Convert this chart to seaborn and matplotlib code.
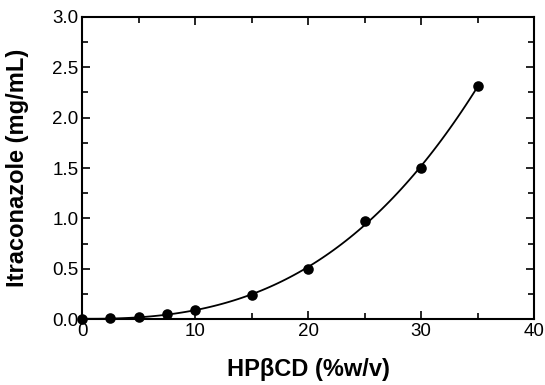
import numpy as np
import pandas as pd
import matplotlib
matplotlib.use("Agg")
import matplotlib.pyplot as plt
import seaborn as sns
from matplotlib.ticker import MultipleLocator, FormatStrFormatter

# ── Datos (solubilidad de fase) ─────────────────────────────────────────────
hpbcd = [0, 2.5, 5, 7.5, 10, 15, 20, 25, 30, 35]
itraconazole = [0.0, 0.007, 0.02, 0.055, 0.09, 0.235, 0.50, 0.97, 1.50, 2.31]

df = pd.DataFrame({"HPbCD": hpbcd, "ITZ": itraconazole})

sns.set_style("ticks", {"axes.edgecolor": "black", "text.color": "black",
                        "axes.labelcolor": "black", "xtick.color": "black",
                        "ytick.color": "black"})
plt.rcParams["font.family"] = ["Liberation Sans", "DejaVu Sans"]

fig, ax = plt.subplots(figsize=(5.45, 3.85), dpi=100)
fig.subplots_adjust(left=0.1505, right=0.98, top=0.956, bottom=0.171)

# curva ajustada (polinomio) + puntos
sns.regplot(data=df, x="HPbCD", y="ITZ", order=3, ci=None, scatter=False,
            line_kws={"color": "black", "linewidth": 1.3}, ax=ax)
sns.scatterplot(data=df, x="HPbCD", y="ITZ", color="black", s=58,
                edgecolor="black", linewidth=0, zorder=3, clip_on=False, ax=ax)

ax.set_xlim(0, 40)
ax.set_ylim(0, 3.0)
ax.xaxis.set_major_locator(MultipleLocator(10))
ax.xaxis.set_minor_locator(MultipleLocator(5))
ax.yaxis.set_major_locator(MultipleLocator(0.5))
ax.yaxis.set_minor_locator(MultipleLocator(0.25))
ax.yaxis.set_major_formatter(FormatStrFormatter("%.1f"))

ax.tick_params(which="both", direction="in", top=True, right=True,
               labelsize=13.5, width=1.2, pad=2.5, colors="black")
ax.tick_params(which="major", length=6)
ax.tick_params(which="minor", length=4)
for s in ax.spines.values():
    s.set_linewidth(1.5)
    s.set_color("black")

ax.set_xlabel("HP\u03b2CD (%w/v)", fontsize=17, fontweight="bold", color="black")
ax.set_ylabel("Itraconazole (mg/mL)", fontsize=17, fontweight="bold", color="black")
ax.xaxis.set_label_coords(0.5, -0.13)
ax.yaxis.set_label_coords(-0.118, 0.5)

fig.savefig("out.png", dpi=100)
